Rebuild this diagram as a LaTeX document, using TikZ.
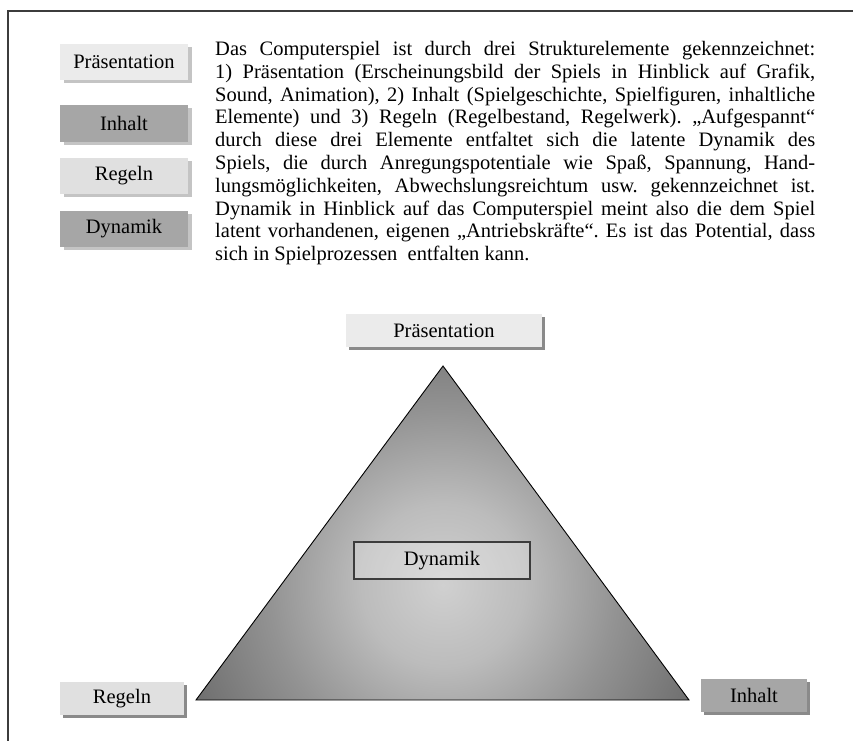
\documentclass[tikz,border=0pt]{standalone}
\usepackage{fontspec}
\setmainfont{Liberation Serif}
\usetikzlibrary{shadows}
\frenchspacing

\definecolor{framegray}{HTML}{3C3C3C}
\definecolor{palefill}{HTML}{EBEBEB}
\definecolor{lightfill}{HTML}{E0E0E0}
\definecolor{midfill}{HTML}{A6A6A6}
\definecolor{softshadow}{HTML}{C4C4C4}
\definecolor{hardshadow}{HTML}{8A8A8A}
\definecolor{triA}{HTML}{D0D0D0}
\definecolor{triB}{HTML}{BCBCBC}
\definecolor{triC}{HTML}{939393}
\definecolor{triD}{HTML}{686868}

\pgfdeclareradialshading{pyramid}{\pgfpoint{0bp}{0bp}}{%
  color(0bp)=(triA); color(7bp)=(triB); color(15bp)=(triC);
  color(25bp)=(triD); color(50bp)=(triD)}

\tikzset{
  labelbox/.style={inner sep=0pt, font=\fontsize{20.5}{22}\selectfont,
    text=black},
  legendbox/.style={labelbox, minimum width=128pt, minimum height=36pt,
    drop shadow={shadow xshift=4pt, shadow yshift=-3pt, fill=softshadow,
      opacity=1}},
  cornerbox/.style={labelbox,
    drop shadow={shadow xshift=3pt, shadow yshift=-3pt, fill=hardshadow,
      opacity=1}},
}

\begin{document}
\begin{tikzpicture}[x=1pt,y=-1pt]
\useasboundingbox (0,0) rectangle (853,741);

% open frame (top and left edges)
\draw[framegray, line width=1.3pt] (853,11) -- (8,11) -- (8,741);

% legend boxes
\node[legendbox, fill=palefill] (legP) at (124,62) {Präsentation};
\node[legendbox, fill=midfill] (legI) at (124,123.5) {Inhalt};
\node[legendbox, fill=lightfill] (legR) at (124,176) {Regeln};
\node[legendbox, fill=midfill] (legD) at (124,229) {Dynamik};

% explanatory paragraph
\node[anchor=north west, inner sep=0pt, text width=600pt, align=justify,
  font=\fontsize{20.5}{22.8}\selectfont] (para) at (215,41) {%
Das Computerspiel ist durch drei Strukturelemente gekennzeichnet:\linebreak
1) Präsentation (Erscheinungsbild der Spiels in Hinblick auf Grafik,\linebreak
Sound, Animation), 2) Inhalt (Spielgeschichte, Spielfiguren, inhaltliche\linebreak
Elemente) und 3) Regeln (Regelbestand, Regelwerk). „Aufgespannt“\linebreak
durch diese drei Elemente entfaltet sich die latente Dynamik des\linebreak
Spiels, die durch Anregungspotentiale wie Spaß, Spannung, Hand-\linebreak
lungsmöglichkeiten, Abwechslungsreichtum usw. gekennzeichnet ist.\linebreak
Dynamik in Hinblick auf das Computerspiel meint also die dem Spiel\linebreak
latent vorhandenen, eigenen „Antriebskräfte“. Es ist das Potential, dass\linebreak
sich in Spielprozessen\ \ entfalten kann.};

% triangle corners
\coordinate (apex) at (443,366);
\coordinate (left) at (196,700);
\coordinate (right) at (689,700);

% shaded triangle
\begin{scope}
  \clip (apex) -- (left) -- (right) -- cycle;
  \shade[shading=pyramid] (443,585) circle[radius=290pt];
\end{scope}
\draw[black, line width=0.9pt, line join=miter] (apex) -- (left) -- (right) -- cycle;

% corner labels
\node[cornerbox, fill=palefill, minimum width=196pt, minimum height=33pt]
  (topP) at (444,330.5) {Präsentation};
\node[cornerbox, fill=lightfill, minimum width=124pt, minimum height=33pt]
  (botR) at (122,698.5) {Regeln};
\node[cornerbox, fill=midfill, minimum width=106pt, minimum height=33pt]
  (botI) at (754,695.5) {Inhalt};

% centre label
\node[labelbox, draw=framegray, line width=1.2pt, fill=white, fill opacity=0.25,
  text opacity=1, minimum width=176pt, minimum height=37pt]
  (dyn) at (442,560.5) {Dynamik};
\end{tikzpicture}
\end{document}
